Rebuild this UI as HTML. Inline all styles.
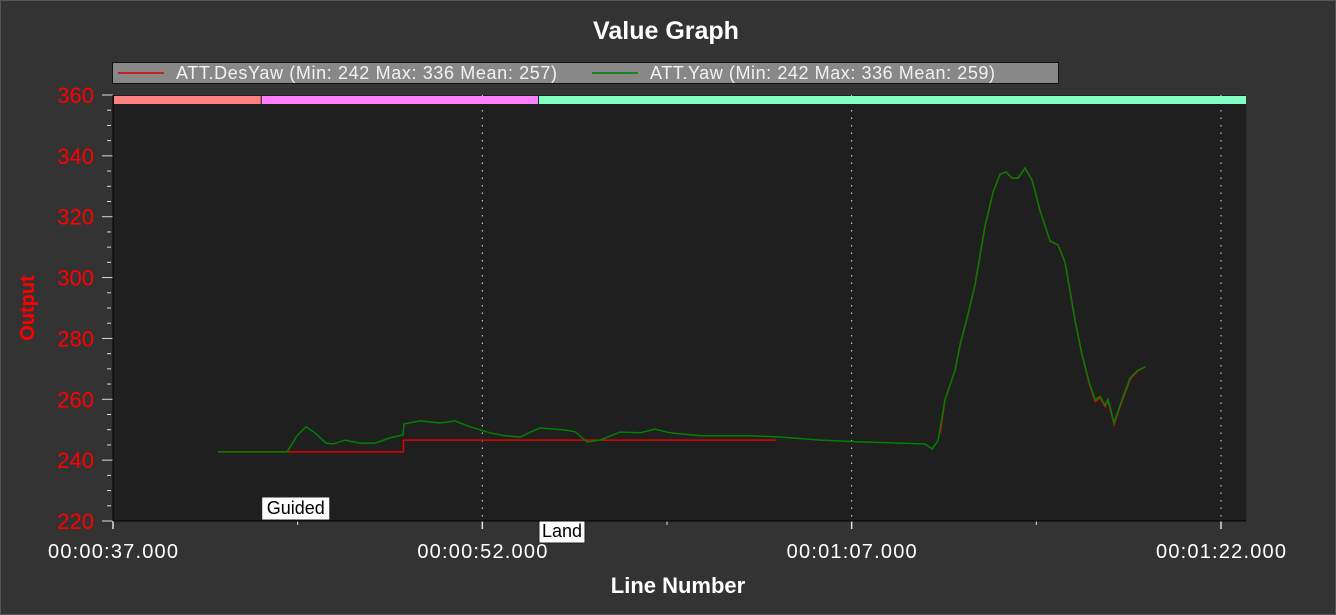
<!DOCTYPE html>
<html><head><meta charset="utf-8"><style>
html,body{margin:0;padding:0;background:#333;}
svg{display:block;font-family:"Liberation Sans",Arial,sans-serif;}
</style></head><body>
<svg id="c" width="1336" height="615" viewBox="0 0 1336 615">
<rect x="0" y="0" width="1336" height="615" fill="#333333"/>
<rect x="0.5" y="0.5" width="1335" height="614" fill="none" stroke="#555"/>
<text x="666" y="39" text-anchor="middle" fill="#fff" font-size="25" font-weight="bold">Value Graph</text>
<g>
<rect x="112.5" y="62.5" width="946" height="21" fill="#888" stroke="#111"/>
<line x1="118" y1="73" x2="164" y2="73" stroke="#d00000" stroke-width="1.5"/>
<text x="176" y="79" fill="#f2f2f2" font-size="18" textLength="381">ATT.DesYaw (Min: 242 Max: 336 Mean: 257)</text>
<line x1="592" y1="73" x2="638" y2="73" stroke="#008000" stroke-width="1.5"/>
<text x="650" y="79" fill="#f2f2f2" font-size="18" textLength="345">ATT.Yaw (Min: 242 Max: 336 Mean: 259)</text>
</g>
<rect x="113" y="95" width="1133" height="426" fill="#1f1f1f"/>
<g id="grid"></g>
<g id="modes"></g>
<g id="axes"></g>
<g id="series"></g>
<text x="0" y="0" transform="translate(34,308) rotate(-90)" text-anchor="middle" fill="#ff0000" font-size="20" font-weight="bold">Output</text>
<text x="678" y="593" text-anchor="middle" fill="#fff" font-size="22" font-weight="bold">Line Number</text>
</svg>
<script>
const xTicks=[37,52,67,82];
const xTickLabels=["00:00:37.000","00:00:52.000","00:01:07.000","00:01:22.000"];
const yTicks=[220,240,260,280,300,320,340,360];
const modeNames=["","Guided","Land"];
const modeStarts=[37,43.0,54.26];
const modeColors=["#ff8080","#ff80ff","#80ffc0"];
const yawT=[41.26,44.07,44.47,44.84,45.20,45.65,45.94,46.42,47.03,47.64,48.25,48.78,48.82,49.47,50.28,50.89,51.50,52.31,52.92,53.53,54.34,55.36,55.77,56.25,56.78,57.59,58.41,59.01,59.62,60.84,62.87,64.09,65.72,67.34,68.97,69.98,70.27,70.51,70.79,71.20,71.40,71.69,72.01,72.42,72.74,73.03,73.27,73.51,73.76,74.04,74.33,74.65,75.06,75.38,75.67,76.07,76.36,76.68,76.89,77.09,77.29,77.41,77.66,77.90,78.31,78.63,78.92];
const yawV=[242.7,242.7,248,251,249,245.6,245.3,246.6,245.6,245.6,247.3,248.3,251.9,252.9,252.2,252.9,251,249,248,247.6,250.6,249.9,249.3,246,246.6,249.2,249,250.2,249,248,248,247.6,246.6,246,245.6,245.3,243.7,246.5,259.8,269.6,277.8,286.7,297.6,317,328,334,334.7,332.7,332.7,336,332,322,312,310.7,305,286,274.5,264.7,259.8,261,258,260,252.2,258,267,269.6,270.6];
const desT1=[41.26,44.07,48.80,48.80,63.93];
const desV1=[242.7,242.7,242.7,246.6,246.6];
const desT2=[70.60,70.79,71.20,71.40,71.69,72.01,72.42,72.74,73.03,73.27,73.51,73.76,74.04,74.33,74.65,75.06,75.38,75.67,76.07,76.36,76.68,76.89,77.09,77.29,77.41,77.66,77.90,78.31,78.63,78.92];
const desV2=[249,259.8,269.6,277.8,286.7,297.6,317,328,334,334.7,332.7,332.7,336,332,322,312,310.7,305,286,274.5,264.2,259.3,260.5,257.5,259.5,251.7,257.5,266.5,269.4,270.6];
const L=113,R=1246,T=95,B=521;
const X=t=>L+(t-37)*(1221-113)/45;
const Y=v=>B-(v-220)*(B-T)/140;
const NS="http://www.w3.org/2000/svg";
function mk(tag,attrs,parent){const e=document.createElementNS(NS,tag);for(const k in attrs)e.setAttribute(k,attrs[k]);parent.appendChild(e);return e;}
const grid=document.getElementById('grid'),axes=document.getElementById('axes'),modes=document.getElementById('modes'),series=document.getElementById('series');
xTicks.forEach((t,i)=>{
  if(i>0&&X(t)<R){const g=mk('line',{x1:X(t),y1:T,x2:X(t),y2:B,stroke:'#ddd','stroke-dasharray':'1.5 6'},grid);
  
  }
  const tk=mk('line',{x1:X(t),y1:B,x2:X(t),y2:B+8,stroke:'#ddd','stroke-width':1.5},axes);
  
  
  const lb=mk('text',{x:X(t),y:558,'text-anchor':'middle',fill:'#fff','font-size':20,textLength:130},axes);
  lb.textContent=xTickLabels[i];
  
  
  if(i<xTicks.length-1){const m=mk('line',{x1:X(t+7.5),y1:B,x2:X(t+7.5),y2:B+4,stroke:'#ddd'},axes);
  
  }
});
for(let v=220;v<=360;v+=5){const major=v%20===0;
  const m=mk('line',{x1:major?L-11:L-6,y1:Y(v),x2:L-(major?0:2),y2:Y(v),stroke:'#ddd'},axes);
  
  }
yTicks.forEach(v=>{const lb=mk('text',{x:94,y:Y(v)+8,'text-anchor':'end',fill:'#ff0000','font-size':22},axes);
  lb.textContent=v;
  
  });
const al=mk('line',{x1:L,y1:T,x2:L,y2:B,stroke:'#000'},axes);


const ab=mk('line',{x1:L,y1:B,x2:R,y2:B,stroke:'#000'},axes);


modeStarts.forEach((s,i)=>{const e=i<modeStarts.length-1?modeStarts[i+1]:null;const x1=X(s),x2=e?X(e):R;
  const r=mk('rect',{x:x1+1,y:T+1,width:x2-x1-1,height:8,fill:modeColors[i]},modes);
  
  
  if(modeNames[i]){const ly=i===1?497:520;const w=modeNames[i].length*11+2;
    const bx=mk('rect',{x:x1+1,y:ly,width:w,height:23,fill:'#fff',stroke:'#222'},modes);
    
    
    const tx=mk('text',{x:x1+w/2+1,y:ly+17,'text-anchor':'middle',fill:'#000','font-size':18},modes);
    tx.textContent=modeNames[i];
    
    }
});
function step(ts,vs){return ts.map((t,i)=>(i?'L':'M')+X(t).toFixed(1)+','+Y(vs[i]).toFixed(1)).join(' ');}
const pd=mk('path',{d:step(desT1,desV1)+' '+step(desT2,desV2),fill:'none',stroke:'#e00000','stroke-width':1.5},series);


const py=mk('path',{d:step(yawT,yawV),fill:'none',stroke:'#008000','stroke-width':1.5},series);


</script>
</body></html>
